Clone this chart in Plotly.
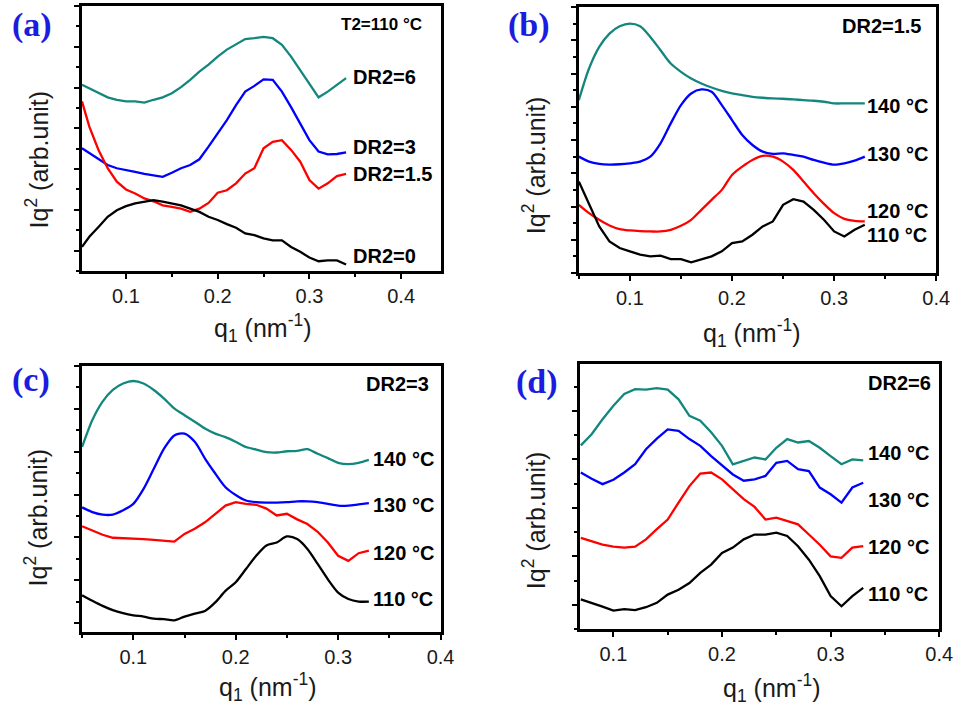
import plotly.graph_objects as go

W, H = 969, 708

# ---------------- data (Iq^2 in arbitrary units) ----------------
# (a) T2 = 110 °C, different DR2
q_a = [0.052, 0.06, 0.07, 0.08, 0.09, 0.10, 0.11, 0.12, 0.13, 0.14, 0.15, 0.16, 0.17, 0.18, 0.19,
       0.20, 0.21, 0.22, 0.23, 0.24, 0.25, 0.26, 0.27, 0.28, 0.29, 0.30, 0.31, 0.32, 0.33, 0.34]
a_dr6 = [4.57, 4.48, 4.36, 4.26, 4.20, 4.16, 4.16, 4.13, 4.20, 4.26, 4.36, 4.51, 4.69, 4.89, 5.06,
         5.26, 5.43, 5.55, 5.69, 5.71, 5.74, 5.71, 5.55, 5.26, 4.93, 4.57, 4.26, 4.40, 4.57, 4.73]
a_dr3 = [3.01, 2.89, 2.74, 2.60, 2.52, 2.48, 2.43, 2.38, 2.35, 2.31, 2.41, 2.52, 2.60, 2.74, 3.05,
         3.38, 3.70, 4.07, 4.40, 4.54, 4.70, 4.69, 4.40, 4.02, 3.61, 3.21, 2.93, 2.86, 2.87, 2.91]
a_dr15 = [4.16, 3.54, 2.97, 2.52, 2.19, 2.00, 1.90, 1.78, 1.71, 1.61, 1.57, 1.53, 1.45, 1.53, 1.67,
          1.92, 1.98, 2.15, 2.39, 2.52, 3.01, 3.17, 3.21, 2.97, 2.68, 2.23, 2.02, 2.15, 2.33, 2.38]
a_dr0 = [0.59, 0.84, 1.08, 1.33, 1.49, 1.59, 1.66, 1.70, 1.74, 1.70, 1.66, 1.61, 1.53, 1.45, 1.33,
         1.25, 1.15, 1.06, 0.92, 0.88, 0.80, 0.75, 0.75, 0.59, 0.47, 0.33, 0.24, 0.26, 0.26, 0.16]

# (b) DR2 = 1.5, different T2
q_b = [0.05, 0.06, 0.07, 0.08, 0.09, 0.10, 0.11, 0.12, 0.13, 0.14, 0.15, 0.16, 0.17, 0.18, 0.19,
       0.20, 0.21, 0.22, 0.23, 0.24, 0.25, 0.26, 0.27, 0.28, 0.29, 0.30, 0.31, 0.32, 0.33]
b_140 = [5.20, 6.15, 6.80, 7.20, 7.42, 7.50, 7.42, 7.10, 6.70, 6.30, 6.05, 5.85, 5.70, 5.58, 5.48,
         5.40, 5.35, 5.30, 5.27, 5.25, 5.24, 5.22, 5.20, 5.18, 5.15, 5.10, 5.10, 5.10, 5.10]
b_130 = [3.50, 3.35, 3.28, 3.26, 3.27, 3.30, 3.35, 3.50, 3.90, 4.50, 5.05, 5.40, 5.52, 5.45, 5.05,
         4.60, 4.15, 3.85, 3.65, 3.58, 3.60, 3.55, 3.50, 3.40, 3.32, 3.26, 3.30, 3.38, 3.50]
b_120 = [2.05, 1.80, 1.60, 1.43, 1.32, 1.28, 1.26, 1.25, 1.25, 1.30, 1.42, 1.60, 1.90, 2.20, 2.50,
         2.95, 3.20, 3.40, 3.52, 3.50, 3.35, 3.10, 2.75, 2.40, 2.08, 1.80, 1.63, 1.57, 1.55]
b_110 = [2.75, 2.10, 1.40, 0.95, 0.75, 0.65, 0.55, 0.50, 0.52, 0.42, 0.42, 0.32, 0.40, 0.50, 0.65,
         0.90, 0.95, 1.15, 1.40, 1.55, 2.05, 2.22, 2.15, 1.90, 1.60, 1.25, 1.10, 1.30, 1.45]

# (c) DR2 = 3, different T2
q_c = [0.05, 0.06, 0.07, 0.08, 0.09, 0.10, 0.11, 0.12, 0.13, 0.14, 0.15, 0.16, 0.17, 0.18, 0.19,
       0.20, 0.21, 0.22, 0.23, 0.24, 0.25, 0.26, 0.27, 0.28, 0.29, 0.30, 0.31, 0.32, 0.33]
c_140 = [4.32, 4.95, 5.38, 5.65, 5.80, 5.86, 5.80, 5.65, 5.45, 5.22, 5.06, 4.91, 4.75, 4.63, 4.55,
         4.44, 4.32, 4.26, 4.20, 4.19, 4.22, 4.23, 4.27, 4.16, 4.06, 3.95, 3.92, 3.95, 4.02]
c_130 = [2.91, 2.80, 2.74, 2.74, 2.84, 2.99, 3.34, 3.81, 4.28, 4.59, 4.63, 4.44, 4.05, 3.70, 3.38,
         3.20, 3.07, 3.03, 3.02, 3.02, 3.03, 3.05, 3.05, 3.03, 2.99, 2.95, 2.95, 2.98, 3.01]
c_120 = [2.47, 2.37, 2.27, 2.20, 2.19, 2.19, 2.17, 2.15, 2.13, 2.11, 2.29, 2.41, 2.56, 2.76, 2.95,
         3.03, 2.99, 2.97, 2.88, 2.72, 2.76, 2.63, 2.52, 2.34, 2.09, 1.78, 1.66, 1.84, 1.90]
c_110 = [0.86, 0.73, 0.61, 0.51, 0.44, 0.39, 0.36, 0.31, 0.30, 0.27, 0.36, 0.43, 0.49, 0.69, 0.96,
         1.16, 1.47, 1.78, 2.02, 2.09, 2.23, 2.17, 1.94, 1.59, 1.23, 0.92, 0.77, 0.71, 0.71]

# (d) DR2 = 6, different T2
q_d = [0.07, 0.08, 0.09, 0.10, 0.11, 0.12, 0.13, 0.14, 0.15, 0.16, 0.17, 0.18, 0.19, 0.20,
       0.21, 0.22, 0.23, 0.24, 0.25, 0.26, 0.27, 0.28, 0.29, 0.30, 0.31, 0.32, 0.33]
d_140 = [3.79, 4.02, 4.33, 4.61, 4.85, 4.95, 4.94, 4.97, 4.94, 4.74, 4.40, 4.30, 4.06, 3.78,
         3.40, 3.47, 3.54, 3.50, 3.74, 3.92, 3.85, 3.88, 3.74, 3.57, 3.40, 3.50, 3.48]
d_130 = [3.23, 3.10, 2.99, 3.08, 3.23, 3.40, 3.71, 3.93, 4.12, 4.09, 3.92, 3.78, 3.57, 3.37,
         3.19, 3.06, 3.09, 3.16, 3.43, 3.47, 3.30, 3.26, 2.92, 2.78, 2.61, 2.92, 3.02]
d_120 = [1.88, 1.81, 1.74, 1.70, 1.68, 1.70, 1.85, 2.06, 2.26, 2.61, 2.95, 3.21, 3.23, 3.09,
         2.88, 2.68, 2.52, 2.26, 2.30, 2.23, 2.16, 1.95, 1.74, 1.50, 1.47, 1.68, 1.71]
d_110 = [0.61, 0.54, 0.46, 0.38, 0.41, 0.39, 0.45, 0.54, 0.71, 0.81, 0.95, 1.16, 1.33, 1.57,
         1.68, 1.85, 1.95, 1.95, 1.99, 1.92, 1.71, 1.43, 1.09, 0.68, 0.47, 0.68, 0.85]

x_ticks = [0.1, 0.2, 0.3, 0.4]
x_tick_text = ["0.1", "0.2", "0.3", "0.4"]

TEAL, BLUE, RED, BLACK = "#13877d", "#0000ff", "#ff0000", "#000000"
LABEL_BLUE = "#1c1ce0"
SANS = "Liberation Sans, Arial, sans-serif"
SERIF = "Liberation Serif, Times New Roman, serif"


def px_x(v):
    return v / W


def px_y(v):
    return 1 - v / H


# panel geometry in pixels: (left, right, top, bottom), x-range, y-range, y tick origin.
# each series: (q, intensity, colour, smooth?) - the smoother scans get a spline line
panels = [
    dict(box=(83, 447, 6, 271), xr=[0.0518, 0.443], yr=[0, 6.5], y0=0.5,
         series=[(q_a, a_dr6, TEAL, False), (q_a, a_dr3, BLUE, False),
                 (q_a, a_dr15, RED, False), (q_a, a_dr0, BLACK, False)]),
    dict(box=(587, 950, 7, 273), xr=[0.0497, 0.4], yr=[0, 8.0], y0=0.0,
         series=[(q_b, b_140, TEAL, True), (q_b, b_130, BLUE, True),
                 (q_b, b_120, RED, True), (q_b, b_110, BLACK, False)]),
    dict(box=(83, 447, 366, 632), xr=[0.0497, 0.4], yr=[0, 6.21], y0=0.21,
         series=[(q_c, c_140, TEAL, True), (q_c, c_130, BLUE, True),
                 (q_c, c_120, RED, False), (q_c, c_110, BLACK, True)]),
    dict(box=(588, 953, 364, 629), xr=[0.0688, 0.4], yr=[0, 5.47], y0=0.5,
         series=[(q_d, d_140, TEAL, False), (q_d, d_130, BLUE, False),
                 (q_d, d_120, RED, False), (q_d, d_110, BLACK, False)]),
]

fig = go.Figure()
layout = {}
for i, p in enumerate(panels, start=1):
    sfx = "" if i == 1 else str(i)
    xa, ya = "x" + sfx, "y" + sfx
    left, right, top, bottom = p["box"]
    for qx, vals, col, smooth in p["series"]:
        line = dict(color=col, width=2.3)
        if smooth:
            line.update(shape="spline", smoothing=0.8)
        fig.add_trace(go.Scatter(x=qx, y=vals, mode="lines", xaxis=xa, yaxis=ya,
                                 line=line, showlegend=False, hoverinfo="skip"))
    layout["xaxis" + sfx] = dict(
        domain=[px_x(left), px_x(right)], range=p["xr"], anchor=ya,
        showline=True, linecolor="black", linewidth=2.5, mirror=True,
        ticks="outside", ticklen=5, tickwidth=2, tickcolor="black",
        tickvals=x_ticks, ticktext=x_tick_text,
        minor=dict(ticks="outside", ticklen=3, tickwidth=1.5, tickcolor="black",
                   tickvals=[0.05, 0.15, 0.25, 0.35]),
        showgrid=False, zeroline=False,
        tickfont=dict(family=SANS, size=20, color="#1a1a1a"),
    )
    layout["yaxis" + sfx] = dict(
        domain=[px_y(bottom), px_y(top)], range=p["yr"], anchor=xa,
        showline=True, linecolor="black", linewidth=2.5, mirror=True,
        ticks="outside", ticklen=5, tickwidth=2, tickcolor="black",
        tick0=p["y0"], dtick=1, showticklabels=False,
        minor=dict(ticks="outside", ticklen=3, tickwidth=1.5, tickcolor="black",
                   tick0=p["y0"] + 0.5, dtick=1),
        showgrid=False, zeroline=False,
    )

anns = []


def text(x, y, s, size, color="black", family=SANS, xanchor="center", angle=0):
    anns.append(dict(x=px_x(x), y=px_y(y), xref="paper", yref="paper", text=s,
                     showarrow=False, xanchor=xanchor, yanchor="middle", textangle=angle,
                     borderpad=0, font=dict(family=family, size=size, color=color)))


# panel letters
for (x, y, s) in [(32, 25, "(a)"), (537, 25, "(b)"), (31, 380, "(c)"), (545, 382, "(d)")]:
    text(x, y, "<b>" + s + "</b>", 34, color=LABEL_BLUE, family=SERIF)

# axis titles
xt = "q<sub>1</sub> (nm<sup>-1</sup>)"
yt = "Iq<sup>2</sup> (arb.unit)"
for (x, y) in [(267, 328), (763, 333), (272, 687), (783, 688)]:
    text(x, y, xt, 25, color="#1a1a1a")
for (x, y) in [(38, 159), (542, 165), (37, 517), (542, 520)]:
    text(x, y, yt, 25, color="#1a1a1a", angle=-90)

# in-plot labels
text(345, 25, "<b>T2=110 °C</b>", 17, xanchor="left")
for (y, s) in [(77, "DR2=6"), (147, "DR2=3"), (174, "DR2=1.5"), (256, "DR2=0")]:
    text(357, y, "<b>" + s + "</b>", 20, xanchor="left")

text(853, 26, "<b>DR2=1.5</b>", 20, xanchor="left")
for (y, s) in [(106, "140 °C"), (154, "130 °C"), (211, "120 °C"), (235, "110 °C")]:
    text(879, y, "<b>" + s + "</b>", 20, xanchor="left")

text(370, 384, "<b>DR2=3</b>", 20, xanchor="left")
for (y, s) in [(459, "140 °C"), (505, "130 °C"), (553, "120 °C"), (599, "110 °C")]:
    text(377, y, "<b>" + s + "</b>", 20, xanchor="left")

text(880, 383, "<b>DR2=6</b>", 20, xanchor="left")
for (y, s) in [(453, "140 °C"), (500, "130 °C"), (547, "120 °C"), (594, "110 °C")]:
    text(880, y, "<b>" + s + "</b>", 20, xanchor="left")

fig.update_layout(
    width=W, height=H, margin=dict(l=0, r=0, t=0, b=0),
    paper_bgcolor="white", plot_bgcolor="white",
    annotations=anns, **layout,
)

fig.write_html("out.html")
